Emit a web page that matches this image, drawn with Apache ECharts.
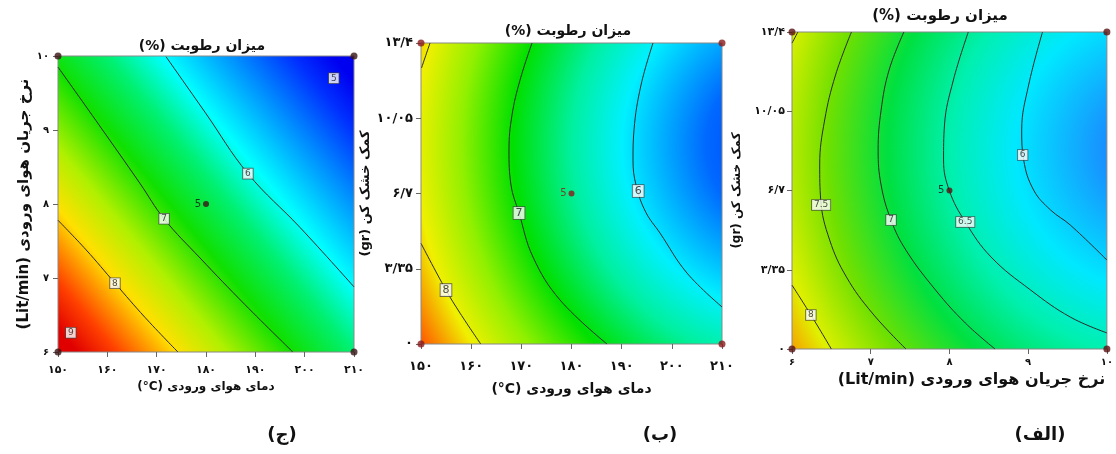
<!DOCTYPE html>
<html>
<head>
<meta charset="utf-8">
<script src="https://cdn.jsdelivr.net/npm/echarts@6/dist/echarts.min.js"></script>
<style>
  html, body { margin: 0; background: #fff; }
  #chart { width: 1116px; height: 454px; }
</style>
</head>
<body>
<div id="chart" dir="rtl"></div>
<script>
// ======================
// DATA
// ======================

// axes
const tempTicks = [150, 160, 170, 180, 190, 200, 210];   // دمای هوای ورودی
const flowTicks = [6, 7, 8, 9, 10];                       // نرخ جریان هوای ورودی
const carrierTicks = [0, 3.35, 6.7, 10.05, 13.4];         // کمک خشک کن

// (ج) temp x flow
const jLine8 = [[150, 7.78], [155.7, 7.38], [161.55, 6.93], [167.6, 6.47], [174.3, 6.0]];
const jLine7 = [[150, 9.85], [158.3, 9.07], [166.6, 8.28], [171.5, 7.8], [178.8, 7.27], [187.9, 6.64], [197.6, 6.0]];
const jLine6 = [[171.9, 9.99], [179.8, 9.24], [188.5, 8.41], [199.1, 7.68], [210, 6.88]];
const jLabels = [[152.6, 6.26, '9'], [161.55, 6.93, '8'], [171.5, 7.8, '7'], [188.5, 8.41, '6'], [205.9, 9.7, '5']];
const jCenter = [[180, 8]];
const jCorners = [[150, 6], [150, 10], [210, 6], [210, 10]];

// (ب) temp x carrier
const bLine8 = [[150, 4.48], [154.98, 2.4], [157.8, 1.37], [161.9, 0]];
const bLine8Top = [[151.8, 13.4], [150.1, 12.29]];
const bLine7 = [[172.13, 13.4], [169.74, 11.75], [168.14, 10.19], [167.54, 8.64], [167.94, 7.08],
                [169.54, 5.83], [172.33, 3.87], [177.71, 1.96], [187.08, 0]];
const bLine6 = [[196.25, 13.4], [193.86, 11.53], [192.46, 9.53], [192.26, 8.19], [192.86, 7.08],
                [194.78, 5.88], [197.64, 4.94], [203.02, 3.16], [210, 1.65]];
const bLabels = [[154.98, 2.4, '8'], [169.54, 5.83, '7'], [193.3, 6.81, '6']];
const bCenter = [[180, 6.7]];
const bCorners = [[150, 0], [150, 13.4], [210, 0], [210, 13.4]];

// (الف) flow x carrier
const aLine8 = [[6, 2.7], [6.24, 1.44], [6.5, 0]];
const aLine8Top = [[6, 12.93], [6.075, 13.4]];
const aLine75 = [[6.755, 13.4], [6.553, 11.58], [6.415, 9.68], [6.352, 7.78], [6.365, 6.3],
                 [6.478, 4.61], [6.692, 3.04], [7.019, 1.52], [7.447, 0]];
const aLine7 = [[7.421, 13.4], [7.233, 11.79], [7.132, 10.1], [7.094, 8.41], [7.132, 6.93],
                [7.258, 5.45], [7.447, 4.18], [7.824, 2.49], [8.201, 1.1], [8.579, 0]];
const aLine65 = [[8.239, 13.4], [8.05, 11.37], [7.937, 9.47], [7.925, 7.99], [8.0, 6.68],
                 [8.201, 5.37], [8.528, 3.89], [9.032, 2.49], [9.535, 1.35], [10, 0.68]];
const aLine6 = [[9.182, 13.4], [9.006, 11.16], [8.918, 9.26], [8.943, 7.99], [9.069, 6.72],
                [9.283, 5.88], [9.535, 5.24], [10, 3.76]];
const aLabels = [[6.24, 1.44, '8'], [6.37, 6.09, '7.5'], [7.258, 5.45, '7'], [8.201, 5.37, '6.5'], [8.93, 8.2, '6']];
const aCenter = [[8, 6.7]];
const aCorners = [[6, 0], [6, 13.4], [10, 0], [10, 13.4]];

// ======================
// HELPERS
// ======================

const FONT = 'DejaVu Sans';
const FA_DIGITS = '۰۱۲۳۴۵۶۷۸۹';
const DEG_C = '(\u200E°C)';

function toFa(v) {
    const s = String(Number(Number(v).toFixed(2)));
    return s.replace(/\d/g, d => FA_DIGITS[d]).replace('.', '/');
}

function contour(data, i) {
    return {
        type: 'line', xAxisIndex: i, yAxisIndex: i, data,
        smooth: 0.4, showSymbol: false, symbol: 'none', silent: true,
        lineStyle: { color: '#2a2a2a', width: 1 }, z: 3
    };
}

function contourLabels(data, i, size) {
    return {
        type: 'scatter', xAxisIndex: i, yAxisIndex: i, data,
        symbolSize: 0, silent: true, z: 5,
        label: {
            show: true, position: 'inside', formatter: p => p.value[2],
            fontFamily: FONT, fontSize: size, color: '#222',
            backgroundColor: '#fff', borderColor: '#444', borderWidth: 0.8,
            padding: [1, 2, 0, 2]
        }
    };
}

function designPoints(center, corners, i, color, labelColor) {
    return [{
        type: 'scatter', xAxisIndex: i, yAxisIndex: i, data: corners,
        symbolSize: 7, clip: false, itemStyle: { color }, z: 6, silent: true
    }, {
        type: 'scatter', xAxisIndex: i, yAxisIndex: i, data: center,
        symbolSize: 6, itemStyle: { color }, z: 6, silent: true,
        label: { show: true, position: 'left', distance: 2, formatter: '5', fontSize: 10, fontFamily: FONT, color: labelColor }
    }];
}

function valueAxis(ticks, name, opt) {
    return Object.assign({
        type: 'value', min: ticks[0], max: ticks[ticks.length - 1],
        interval: ticks[1] - ticks[0],
        name, nameLocation: 'middle',
        axisLine: { show: false },
        axisTick: { show: true, length: 5, lineStyle: { color: '#666' } },
        splitLine: { show: false }
    }, opt);
}

function tickText(size, margin) {
    return { formatter: toFa, color: '#111', fontFamily: FONT, fontWeight: 'bold', fontSize: size, margin };
}

function nameText(size, extra) {
    return Object.assign({ color: '#111', fontFamily: FONT, fontWeight: 'bold', fontSize: size }, extra);
}

// ======================
// OPTION
// ======================

const chart = echarts.init(document.getElementById('chart'), null, { renderer: 'canvas' });

const titleStyle = { fontFamily: FONT, fontWeight: 'bold', color: '#111' };
const title = (text, left, top, size) => ({
    text, left, top, textAlign: 'center', padding: 0,
    textStyle: Object.assign({ fontSize: size }, titleStyle)
});

const option = {
    backgroundColor: '#fff',
    animation: false,
    title: [
        title('میزان رطوبت (%)', 202, 39, 14),
        title('میزان رطوبت (%)', 568, 24, 14),
        title('میزان رطوبت (%)', 940, 9, 15),
        title('(ج)', 282, 426, 18),
        title('(ب)', 660, 426, 18),
        title('(الف)', 1040, 426, 18)
    ],
    grid: [
        {
            left: 58, top: 56, width: 296, height: 296, show: true, borderColor: '#888', borderWidth: 1,
            backgroundColor: {
                type: 'linear', x: 0, y: 0.92, x2: 1, y2: 0.09,
                colorStops: [
                    { offset: 0, color: '#e00000' }, { offset: 0.08, color: '#ff4000' },
                    { offset: 0.14, color: '#ff9000' }, { offset: 0.2, color: '#ffe000' },
                    { offset: 0.3, color: '#b0f000' }, { offset: 0.43, color: '#10e000' },
                    { offset: 0.55, color: '#00f070' }, { offset: 0.66, color: '#00ffff' },
                    { offset: 0.8, color: '#0090ff' }, { offset: 0.92, color: '#0030ff' },
                    { offset: 1, color: '#0000f0' }
                ]
            }
        },
        {
            left: 421, top: 43, width: 301, height: 301, show: true, borderColor: '#888', borderWidth: 1,
            backgroundColor: {
                type: 'radial', x: 1.226, y: 0.339, r: 1.395,
                colorStops: [
                    { offset: 0, color: '#0030ff' }, { offset: 0.2, color: '#0068ff' },
                    { offset: 0.4, color: '#00f0ff' }, { offset: 0.52, color: '#00f0a0' },
                    { offset: 0.66, color: '#00e000' }, { offset: 0.78, color: '#90f000' },
                    { offset: 0.89, color: '#f0f000' }, { offset: 1, color: '#ff5000' }
                ]
            }
        },
        {
            left: 792, top: 32, width: 318, height: 317, show: true, borderColor: '#888', borderWidth: 1,
            backgroundColor: {
                type: 'radial', x: 1.157, y: 0.372, r: 1.356,
                colorStops: [
                    { offset: 0, color: '#1070f0' }, { offset: 0.12, color: '#1890ff' },
                    { offset: 0.33, color: '#00e8ff' }, { offset: 0.48, color: '#00f0b0' },
                    { offset: 0.63, color: '#00e040' }, { offset: 0.77, color: '#70e000' },
                    { offset: 0.9, color: '#e0f000' }, { offset: 1, color: '#ff8000' }
                ]
            }
        }
    ],
    xAxis: [
        valueAxis(tempTicks, 'دمای هوای ورودی ' + DEG_C, {
            gridIndex: 0, nameGap: 25,
            axisLabel: tickText(11, 13), nameTextStyle: nameText(12)
        }),
        valueAxis(tempTicks, 'دمای هوای ورودی ' + DEG_C, {
            gridIndex: 1, nameGap: 38,
            axisLabel: tickText(13, 16), nameTextStyle: nameText(14)
        }),
        valueAxis(flowTicks, 'نرخ جریان هوای ورودی (Lit/min)', {
            gridIndex: 2, nameGap: 21,
            axisLabel: tickText(10, 8), nameTextStyle: nameText(16, { padding: [0, 0, 0, 44] })
        })
    ],
    yAxis: [
        valueAxis(flowTicks, 'نرخ جریان هوای ورودی (Lit/min)', {
            gridIndex: 0, nameGap: 26,
            axisLabel: tickText(10, 9), nameTextStyle: nameText(15)
        }),
        valueAxis(carrierTicks, 'کمک خشک کن (gr)', {
            gridIndex: 1, nameGap: 46,
            axisLabel: tickText(13, 8), nameTextStyle: nameText(13)
        }),
        valueAxis(carrierTicks, 'کمک خشک کن (gr)', {
            gridIndex: 2, nameGap: 49,
            axisLabel: tickText(11, 7), nameTextStyle: nameText(12)
        })
    ],
    series: [
        contour(jLine8, 0), contour(jLine7, 0), contour(jLine6, 0),
        contourLabels(jLabels, 0, 9),
        ...designPoints(jCenter, jCorners, 0, '#3a1414', '#111'),

        contour(bLine8, 1), contour(bLine8Top, 1), contour(bLine7, 1), contour(bLine6, 1),
        contourLabels(bLabels, 1, 11),
        ...designPoints(bCenter, bCorners, 1, '#8b1a1a', '#8b1a1a'),

        contour(aLine8, 2), contour(aLine8Top, 2), contour(aLine75, 2), contour(aLine7, 2),
        contour(aLine65, 2), contour(aLine6, 2),
        contourLabels(aLabels, 2, 9),
        ...designPoints(aCenter, aCorners, 2, '#5a1010', '#111')
    ]
};

chart.setOption(option);
</script>
</body>
</html>
